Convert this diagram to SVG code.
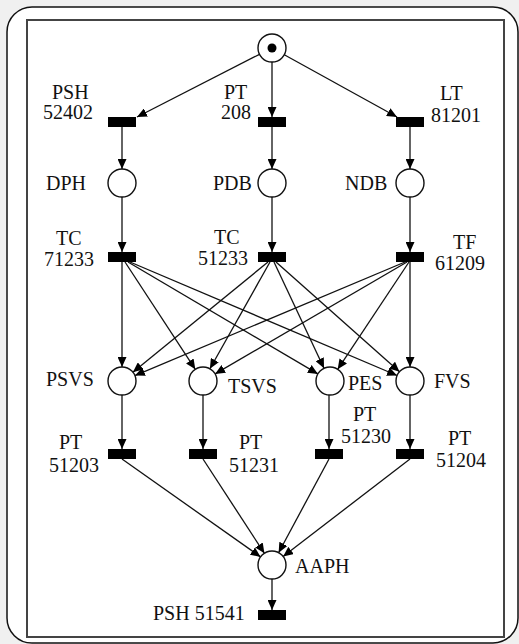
<svg xmlns="http://www.w3.org/2000/svg" width="519" height="644" viewBox="0 0 519 644">
<defs>
<marker id="ah" markerUnits="userSpaceOnUse" markerWidth="10" markerHeight="9" refX="10" refY="4.5" orient="auto">
<path d="M0,0 L10,4.5 L0,9 z" fill="#000"/>
</marker>
<style>
.pl{fill:#fff;stroke:#111;stroke-width:1.4}
.tr{fill:#000}
.e{stroke:#111;stroke-width:1.3;fill:none;marker-end:url(#ah)}
</style>
</defs>
<rect x="0" y="0" width="519" height="644" fill="#f0f0f0"/>
<rect x="7" y="7" width="511" height="636" rx="25" fill="#fff" stroke="#111" stroke-width="1.5"/>
<rect x="27" y="20" width="477" height="617" fill="none" stroke="#444" stroke-width="2"/>

<g id="edges">
<line class="e" x1="259.5" y1="54.3" x2="137" y2="117"/>
<line class="e" x1="272" y1="62" x2="272" y2="117"/>
<line class="e" x1="284.3" y1="54.7" x2="397" y2="117"/>
<line class="e" x1="122" y1="127" x2="122" y2="169"/>
<line class="e" x1="272" y1="127" x2="272" y2="169"/>
<line class="e" x1="410" y1="127" x2="410" y2="169"/>
<line class="e" x1="122" y1="197" x2="122" y2="252"/>
<line class="e" x1="272" y1="197" x2="272" y2="252"/>
<line class="e" x1="410" y1="197" x2="410" y2="252"/>
<line class="e" x1="122" y1="262" x2="122" y2="367"/>
<line class="e" x1="125" y1="262" x2="195.3" y2="369.3"/>
<line class="e" x1="128" y1="262" x2="317.9" y2="373.9"/>
<line class="e" x1="130" y1="262" x2="397.1" y2="375.5"/>
<line class="e" x1="268" y1="262" x2="132.9" y2="372.2"/>
<line class="e" x1="270" y1="262" x2="209.9" y2="368.8"/>
<line class="e" x1="274" y1="262" x2="324" y2="368.3"/>
<line class="e" x1="276" y1="262" x2="399.5" y2="371.7"/>
<line class="e" x1="405" y1="262" x2="134.9" y2="375.6"/>
<line class="e" x1="407" y1="262" x2="215.1" y2="373.9"/>
<line class="e" x1="409" y1="262" x2="337.7" y2="369.3"/>
<line class="e" x1="410" y1="262" x2="410" y2="367"/>
<line class="e" x1="122" y1="395" x2="122" y2="449"/>
<line class="e" x1="203" y1="395" x2="203" y2="449"/>
<line class="e" x1="329" y1="395" x2="329" y2="449"/>
<line class="e" x1="410" y1="395" x2="410" y2="449"/>
<line class="e" x1="122" y1="459" x2="260.6" y2="556.9"/>
<line class="e" x1="203" y1="459" x2="264.4" y2="553.3"/>
<line class="e" x1="329" y1="459" x2="278.6" y2="552.7"/>
<line class="e" x1="410" y1="459" x2="283.1" y2="556.5"/>
<line class="e" x1="272" y1="579" x2="272" y2="610"/>
</g>

<g font-family="Liberation Serif, Times New Roman, serif" font-size="20" fill="#111">
<g id="start"><circle class="pl" cx="272" cy="48" r="14"/><circle cx="272" cy="48" r="4.5" fill="#000"/></g>

<g id="t_psh52402"><rect class="tr" x="108" y="117" width="28" height="10"/><text x="52" y="99">PSH</text><text x="43" y="119">52402</text></g>
<g id="t_pt208"><rect class="tr" x="258" y="117" width="28" height="10"/><text x="224" y="99">PT</text><text x="221" y="119">208</text></g>
<g id="t_lt81201"><rect class="tr" x="396" y="117" width="28" height="10"/><text x="440" y="100">LT</text><text x="431" y="122">81201</text></g>

<g id="p_dph"><circle class="pl" cx="122" cy="183" r="14"/><text x="46" y="190">DPH</text></g>
<g id="p_pdb"><circle class="pl" cx="272" cy="183" r="14"/><text x="213" y="190">PDB</text></g>
<g id="p_ndb"><circle class="pl" cx="410" cy="183" r="14"/><text x="345" y="190">NDB</text></g>

<g id="t_tc71233"><rect class="tr" x="108" y="252" width="28" height="10"/><text x="56" y="245">TC</text><text x="44" y="266">71233</text></g>
<g id="t_tc51233"><rect class="tr" x="258" y="252" width="28" height="10"/><text x="214" y="244">TC</text><text x="198" y="265">51233</text></g>
<g id="t_tf61209"><rect class="tr" x="396" y="252" width="28" height="10"/><text x="453" y="249">TF</text><text x="435" y="270">61209</text></g>

<g id="p_psvs"><circle class="pl" cx="122" cy="381" r="14"/><text x="46" y="386">PSVS</text></g>
<g id="p_tsvs"><circle class="pl" cx="203" cy="381" r="14"/><text x="228" y="393">TSVS</text></g>
<g id="p_pes"><circle class="pl" cx="330" cy="381" r="14"/><text x="348" y="390">PES</text></g>
<g id="p_fvs"><circle class="pl" cx="410" cy="381" r="14"/><text x="434" y="388">FVS</text></g>

<g id="t_pt51203"><rect class="tr" x="108" y="449" width="28" height="10"/><text x="59" y="449">PT</text><text x="49" y="472">51203</text></g>
<g id="t_pt51231"><rect class="tr" x="189" y="449" width="28" height="10"/><text x="239" y="449">PT</text><text x="229" y="472">51231</text></g>
<g id="t_pt51230"><rect class="tr" x="315" y="449" width="28" height="10"/><text x="353" y="421">PT</text><text x="341" y="443">51230</text></g>
<g id="t_pt51204"><rect class="tr" x="396" y="449" width="28" height="10"/><text x="448" y="445">PT</text><text x="436" y="467">51204</text></g>

<g id="p_aaph"><circle class="pl" cx="272" cy="565" r="14"/><text x="295" y="573">AAPH</text></g>
<g id="t_psh51541"><rect class="tr" x="258" y="610" width="28" height="10"/><text x="153" y="620">PSH 51541</text></g>
</g>
</svg>
